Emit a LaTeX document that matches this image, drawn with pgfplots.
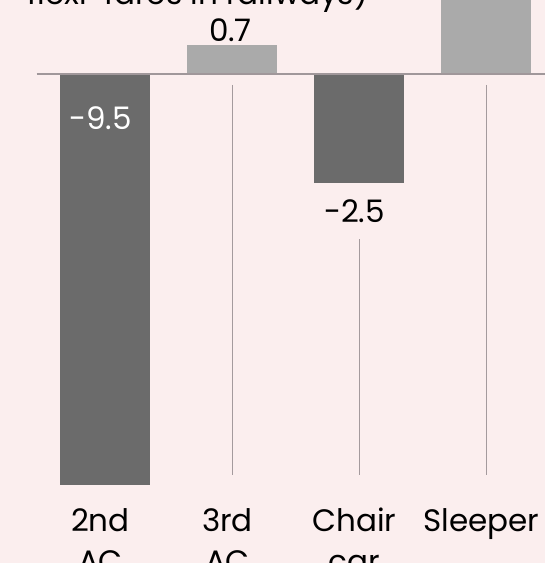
\documentclass[border=0pt]{standalone}
\usepackage{pgfplots}
\pgfplotsset{compat=1.18}
\usepackage{fontspec}
\setmainfont{Poppins}
\definecolor{bg}{HTML}{FBEEEE}
\definecolor{darkbar}{HTML}{6B6B6B}
\definecolor{lightbar}{HTML}{AAAAAA}
\definecolor{zeroline}{HTML}{A0979A}
\definecolor{stem}{HTML}{A49A9D}
\newcommand\lbl{\fontsize{15.5}{20.4}\selectfont}

\begin{document}
\begin{tikzpicture}
\clip (0,0) rectangle (272.5pt,281.5pt);
\fill[bg] (0,0) rectangle (272.5pt,281.5pt);
\node[anchor=base west, font=\lbl, inner sep=0pt] at (13.6pt,279.4pt) {flexi-fares in railways)};
\begin{axis}[
  at={(18.25pt,35.5pt)}, anchor=south west,
  x=63.5pt, y=21.565pt,
  xmin=-0.543, xmax=3.5, ymin=-9.657, ymax=1.75,
  enlargelimits=false,
  axis line style={draw=none},
  major tick length=0pt,
  ytick=\empty,
  xtick={0,1,2,3},
  xticklabels={{2nd\\AC},{3rd\\AC},{Chair\\car},{Sleeper}},
  xticklabel style={font=\lbl, align=center, anchor=north, inner sep=0pt, yshift=-8pt, xshift=-2.5pt},
  ybar, bar width=0.709, bar shift=0pt,
  clip=true,
]
% bars
\addplot[fill=darkbar, draw=none] coordinates {(0,-9.5)};
\addplot[fill=lightbar, draw=none] coordinates {(1,0.7)};
\addplot[fill=darkbar, draw=none] coordinates {(2,-2.5)};
\addplot[fill=lightbar, draw=none] coordinates {(3,3.2)};
% zero line
\addplot[sharp plot, zeroline, line width=1.1pt] coordinates {(-0.543,0.03) (3.5,0.03)};
% drop lines towards the category names
\addplot[sharp plot, stem, line width=0.9pt] coordinates {(1,-0.22) (1,-9.26)};
\addplot[sharp plot, stem, line width=0.9pt] coordinates {(2,-3.80) (2,-9.26)};
\addplot[sharp plot, stem, line width=0.9pt] coordinates {(3,-0.22) (3,-9.26)};
% value labels
\node[anchor=base, font=\lbl, text=white, inner sep=0pt, xshift=-2.5pt] at (axis cs:0,-1.26) {-9.5};
\node[anchor=base, font=\lbl, inner sep=0pt, xshift=-1pt, yshift=1.75pt] at (axis cs:1,0.7) {0.7};
\node[anchor=base, font=\lbl, inner sep=0pt, xshift=-2.5pt] at (axis cs:2,-3.40) {-2.5};
\end{axis}
\end{tikzpicture}
\end{document}
